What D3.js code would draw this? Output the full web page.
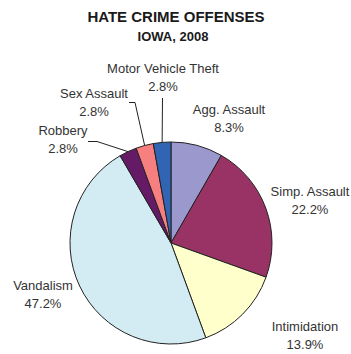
<!DOCTYPE html>
<html>
<head>
<meta charset="utf-8">
<script src="https://cdn.jsdelivr.net/npm/d3@7"></script>
<style>
  html, body { margin: 0; padding: 0; background: #fff; }
  svg { display: block; font-family: "Liberation Sans", Arial, sans-serif; }
</style>
</head>
<body>
<svg id="chart" width="351" height="354"></svg>
<script>
// Offense categories, clockwise from 12 o'clock
const categories = ["Agg. Assault", "Simp. Assault", "Intimidation", "Vandalism", "Robbery", "Sex Assault", "Motor Vehicle Theft"];
const percents   = [8.3, 22.2, 13.9, 47.2, 2.8, 2.8, 2.8];
const colors     = ["#9a98cc", "#993366", "#ffffcc", "#d3ecf4", "#651a66", "#f77f7f", "#3165b3"];
const pctLabels  = ["8.3%", "22.2%", "13.9%", "47.2%", "2.8%", "2.8%", "2.8%"];

const title = "HATE CRIME OFFENSES";
const subtitle = "IOWA, 2008";

// Layout
const cx = 171, cy = 243, R = 101;
// label anchor (centre x, baseline of first line) per slice
const labelPos = [
  [229, 114], [310, 196], [305, 331], [43, 290],
  [63, 135], [94, 98], [163, 73]
];
// leader line elbows (null = label sits beside its slice)
const leaders = [null, null, null, null,
  [[88, 141.5], [97, 141.5]],
  [[129, 102.5], [135, 102.5]],
  [[162.5, 98], [162.5, 98]]
];

const svg = d3.select("#chart");

svg.append("text").attr("x", 176).attr("y", 22).attr("text-anchor", "middle")
  .attr("font-size", 15).attr("font-weight", "bold").attr("fill", "#1a1a1a").text(title);
svg.append("text").attr("x", 173).attr("y", 41).attr("text-anchor", "middle")
  .attr("font-size", 13).attr("font-weight", "bold").attr("fill", "#1a1a1a").text(subtitle);

const pie = d3.pie().sort(null).value(d => d)(percents);
const arc = d3.arc().innerRadius(0).outerRadius(R);

const g = svg.append("g").attr("transform", `translate(${cx},${cy})`);
g.selectAll("path").data(pie).join("path")
  .attr("d", arc)
  .attr("fill", (d, i) => colors[i])
  .attr("stroke", "#222")
  .attr("stroke-width", 1)
  .attr("stroke-linejoin", "round");

// leader lines to the midpoint of the slice's arc
pie.forEach((d, i) => {
  if (!leaders[i]) return;
  const mid = (d.startAngle + d.endAngle) / 2;
  const ex = cx + R * Math.sin(mid), ey = cy - R * Math.cos(mid);
  const pts = leaders[i].concat([[ex, ey]]);
  svg.append("path").attr("d", d3.line()(pts))
    .attr("fill", "none").attr("stroke", "#222").attr("stroke-width", 1);
});

// labels
categories.forEach((c, i) => {
  const [x, y] = labelPos[i];
  const t = svg.append("text").attr("text-anchor", "middle")
    .attr("font-size", 13).attr("fill", "#333");
  t.append("tspan").attr("x", x).attr("y", y).text(c);
  t.append("tspan").attr("x", x).attr("y", y + 18).text(pctLabels[i]);
});
</script>
</body>
</html>
